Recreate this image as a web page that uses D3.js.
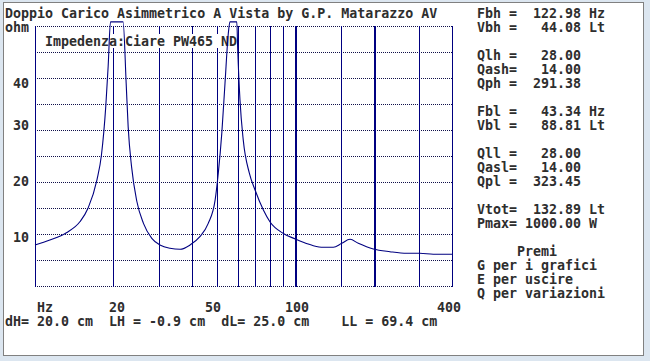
<!DOCTYPE html>
<html><head><meta charset="utf-8">
<script src="https://cdn.jsdelivr.net/npm/d3@7"></script>
<style>
html,body{margin:0;padding:0;background:#dce6f0;}
svg{display:block;}
text{font-family:"DejaVu Sans Mono",monospace;font-size:13.3px;font-weight:bold;fill:#2e2e2e;white-space:pre;}
</style></head>
<body>
<script>
// ---- data ----
const title = "Doppio Carico Asimmetrico A Vista by G.P. Matarazzo AV";
const yUnit = "ohm";
const xUnit = "Hz";
const subtitle = "Impedenza:Ciare PW465 ND";
const freqs = [10, 11.4, 13.2, 14.9, 16.0, 17.3, 18.0, 18.7, 19.1, 19.5, 21.8, 22.4, 22.8, 23.5, 24.6, 26.1, 28.1, 30.2, 33.0, 36.1, 39.4, 43.0, 46.3, 49.2, 50.6, 52.2, 53.7, 55.3, 56.1, 59.6, 60.1, 61.3, 63.1, 66.6, 70.0, 75.4, 80.0, 90.0, 100, 107.3, 117.3, 128.1, 140, 150.8, 162.3, 174.6, 199.4, 231, 268, 301, 339, 400];
const ohms  = [7.9, 8.85, 10.25, 12.4, 15.0, 20.4, 25.2, 34.5, 42.2, 50.8, 50.8, 39.0, 30.6, 22.9, 16.35, 12.05, 9.17, 7.88, 7.25, 7.06, 7.88, 9.49, 12.05, 16.5, 21.7, 29.4, 39.0, 48.6, 50.8, 50.8, 45.4, 35.8, 28.1, 21.7, 18.5, 14.6, 12.3, 10.1, 9.04, 8.4, 7.75, 7.44, 7.44, 8.21, 8.98, 8.21, 7.12, 6.6, 6.29, 6.29, 6.1, 6.1];
const xTickValues = [20, 50, 100, 400];
const yTickValues = [10, 20, 30, 40];
const vGridFreqs = [20, 30, 40, 50, 60, 70, 80, 90, 100, 150, 200, 300];
const thickFreqs = [100, 200];
const hGridOhms = [0, 5, 10, 15, 20, 25, 30, 35, 40, 45, 50];
const panelLines = [
  [0, "Fbh =  122.98 Hz"],
  [1, "Vbh =   44.08 Lt"],
  [3, "Qlh =   28.00"],
  [4, "Qash=   14.00"],
  [5, "Qph =  291.38"],
  [7, "Fbl =   43.34 Hz"],
  [8, "Vbl =   88.81 Lt"],
  [10, "Qll =   28.00"],
  [11, "Qasl=   14.00"],
  [12, "Qpl =  323.45"],
  [14, "Vtot=  132.89 Lt"],
  [15, "Pmax= 1000.00 W"],
  [17, "     Premi"],
  [18, "G per i grafici"],
  [19, "E per uscire"],
  [20, "Q per variazioni"]
];
const footer = "dH= 20.0 cm  LH = -0.9 cm  dL= 25.0 cm    LL = 69.4 cm";

// ---- layout ----
const W = 650, H = 361;
const rowY = n => 17.5 + 14 * n;
const colX = c => 5 + 8 * c;
const navy = "#000080";

const svg = d3.select("body").append("svg").attr("width", W).attr("height", H);
svg.append("rect").attr("x", 3.5).attr("y", 2.5).attr("width", 640).attr("height", 353)
  .attr("fill", "#ffffff").attr("stroke", "#808080").attr("stroke-width", 1);

const x = d3.scaleLog().domain([10, 400]).range([35, 452]);
const y = d3.scaleLinear().domain([0, 50]).range([286, 26]);
const px = v => Math.round(v) + 0.5;

// horizontal dotted grid
svg.append("g").selectAll("line").data(hGridOhms).join("line")
  .attr("x1", x(10)).attr("x2", x(400))
  .attr("y1", d => px(y(d))).attr("y2", d => px(y(d)))
  .attr("stroke", "#10104a").attr("stroke-width", 1).attr("stroke-dasharray", "1,1");

// vertical grid lines
const vAll = [10].concat(vGridFreqs, [400]);
svg.append("g").selectAll("line").data(vAll).join("line")
  .attr("x1", d => thickFreqs.includes(d) ? Math.round(x(d)) + 1 : px(x(d)))
  .attr("x2", d => thickFreqs.includes(d) ? Math.round(x(d)) + 1 : px(x(d)))
  .attr("y1", y(50)).attr("y2", y(0) + 1)
  .attr("stroke", navy).attr("stroke-width", d => thickFreqs.includes(d) ? 2 : 1);

// subtitle with white cell background
const subCol = 5;
svg.append("rect").attr("x", colX(subCol)).attr("y", rowY(2) - 11.5)
  .attr("width", subtitle.length * 8).attr("height", 14).attr("fill", "#fff");
svg.append("text").attr("x", colX(subCol)).attr("y", rowY(2)).text(subtitle);

// curve
const pts = freqs.map((f, i) => [f, ohms[i]]);
svg.append("path").datum(pts)
  .attr("d", d3.line().x(d => x(d[0])).y(d => y(d[1])).curve(d3.curveMonotoneX))
  .attr("fill", "none").attr("stroke", navy).attr("stroke-width", 1.1);

// texts
svg.append("text").attr("x", colX(0)).attr("y", rowY(0)).text(title);
svg.append("text").attr("x", colX(0)).attr("y", rowY(1)).text(yUnit);

// y tick labels snapped to text rows
svg.append("g").selectAll("text").data(yTickValues).join("text")
  .attr("x", colX(3)).attr("text-anchor", "end")
  .attr("y", d => rowY(Math.round((y(d) - 13) / 14)))
  .text(d3.format("d"));

// x tick labels snapped to text columns
svg.append("text").attr("x", colX(4)).attr("y", rowY(21)).text(xUnit);
const xFmt = d3.format("d");
svg.append("g").selectAll("text").data(xTickValues).join("text")
  .attr("x", d => colX(Math.round((x(d) - 5) / 8 - xFmt(d).length / 2)))
  .attr("y", rowY(21))
  .text(xFmt);

svg.append("text").attr("x", colX(0)).attr("y", rowY(22)).text(footer);

// right panel
svg.append("g").selectAll("text").data(panelLines).join("text")
  .attr("x", colX(59)).attr("y", d => rowY(d[0])).text(d => d[1]);
</script>
</body></html>
